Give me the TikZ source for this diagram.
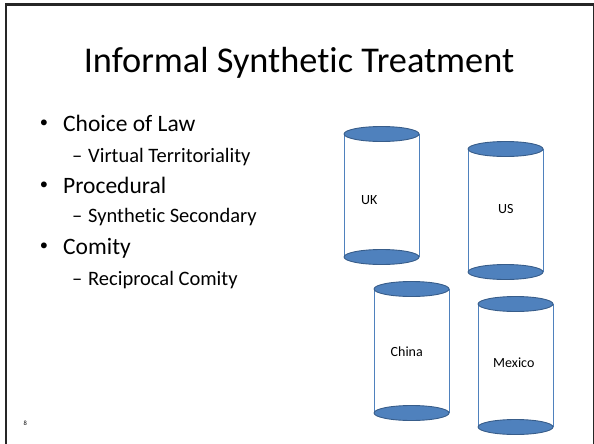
\documentclass[tikz,border=0pt]{standalone}
\usepackage{fontspec}
\setmainfont{Carlito}[Ligatures={NoCommon}]
\usepackage{tikz}
\tikzset{>=latex}
\definecolor{capblue}{HTML}{4F81BD}
\definecolor{capedge}{HTML}{385D8A}
\tikzset{
  cylside/.style={draw=capblue, line width=0.9pt},
  cylcap/.style={draw=capedge, fill=capblue, line width=0.9pt},
  titletext/.style={inner sep=0pt, font=\fontsize{36.3}{40}\selectfont},
  dottext/.style={inner sep=0pt, anchor=center, font=\fontsize{16.5}{18}\selectfont},
  bullettext/.style={inner sep=0pt, anchor=base west, font=\fontsize{23.5}{26}\selectfont},
  subtext/.style={inner sep=0pt, anchor=base west, font=\fontsize{20.5}{23}\selectfont},
  cyltext/.style={inner sep=0pt, anchor=base west, font=\fontsize{14}{16}\selectfont}
}

\begin{document}
\begin{tikzpicture}[x=1pt, y=-1pt]

\useasboundingbox (0,0) rectangle (594,444);

% slide frame
    \draw[black!85, line width=2.3pt] (6,444) |- (593.5,4.5);
    \draw[black!85, line width=1pt] (593.5,4.5) -- (593.5,444);

    \node[titletext, anchor=base] (title) at (299,72) {Informal Synthetic Treatment};

% bullets
    \node[dottext] (dot1) at (44,124) {•};
    \node[bullettext] (choice) at (63,131.5) {Choice of Law};
    \node[subtext] (dash1) at (72,162) {–};
    \node[subtext] (virtual) at (88,162) {Virtual Territoriality};
    \node[dottext] (dot2) at (44,185.5) {•};
    \node[bullettext] (proc) at (63,193) {Procedural};
    \node[subtext] (dash2) at (72,222.7) {–};
    \node[subtext] (synth) at (88,222.7) {Synthetic Secondary};
    \node[dottext] (dot3) at (44,246.5) {•};
    \node[bullettext] (comity) at (63,254) {Comity};
    \node[subtext] (dash3) at (72,285) {–};
    \node[subtext] (recip) at (88,285) {Reciprocal Comity};

% cylinders
    \foreach \x/\t/\b in {344/134/257, 468/149/272, 374/289/413, 478/304/427}{
        \draw[cylside] (\x,\t) -- (\x,\b) (\x+75,\t) -- (\x+75,\b);
        \draw[cylcap] (\x+37.5,\b) ellipse[x radius=37.5, y radius=7.5];
        \draw[cylcap] (\x+37.5,\t) ellipse[x radius=37.5, y radius=7.5];
    }

    \node[cyltext] (uk) at (361,204) {UK};
    \node[cyltext] (us) at (498,213.5) {US};
    \node[cyltext] (china) at (390.5,356) {China};
    \node[cyltext] (mexico) at (493,367) {Mexico};

% End page number
    \node[inner sep=0pt, anchor=base west, font=\fontsize{6.5}{7}\selectfont] (page) at (23.5,425) {8};

\end{tikzpicture}
\end{document}
